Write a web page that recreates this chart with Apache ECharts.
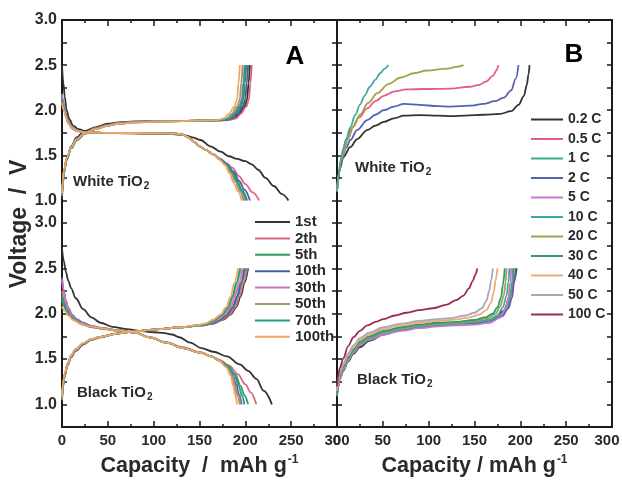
<!DOCTYPE html>
<html>
<head>
<meta charset="utf-8">
<script src="https://cdn.jsdelivr.net/npm/echarts@6/dist/echarts.min.js"></script>
<style>
  html, body { margin: 0; padding: 0; background: #fff; }
  #chart { width: 622px; height: 481px; }
</style>
</head>
<body>
<div id="chart"></div>
<script>
// ---- labels ----
const capacityTicks = [0, 50, 100, 150, 200, 250, 300];
const voltageTicks = [1.0, 1.5, 2.0, 2.5, 3.0];
const cycles = ['1st', '2th', '5th', '10th', '30th', '50th', '70th', '100th'];
const cycleColors = ['#333333', '#e0637f', '#2f9c63', '#4f5d9e', '#c577c4', '#9d9c63', '#1f9f80', '#f2a565'];
const rates = ['0.2 C', '0.5 C', '1 C', '2 C', '5 C', '10 C', '20 C', '30 C', '40 C', '50 C', '100 C'];
const rateColors = ['#333333', '#e65b8c', '#3aae7c', '#5462ae', '#c67ac8', '#3fa9a6', '#a3a348', '#2a9a72', '#f0a878', '#a8a8b8', '#9a2e52'];

// ---- A: cycling, white TiO2 (capacity mAh/g, voltage V) ----
const whiteCharge = [
  [[0,1.02],[1,1.18],[2,1.3],[5,1.46],[10,1.6],[16,1.7],[25,1.77],[36,1.81],[50,1.85],[62,1.865],[80,1.875],[110,1.88],[150,1.885],[180,1.89],[188,1.91],[193,1.96],[199,2.04],[202,2.12],[203.5,2.3],[205,2.5]],
  [[0,1.05],[1,1.2],[2,1.31],[5,1.45],[10,1.58],[16,1.68],[25,1.75],[36,1.8],[50,1.84],[62,1.86],[80,1.87],[110,1.88],[150,1.885],[182,1.89],[190,1.91],[195,1.96],[201,2.04],[204,2.12],[205.5,2.3],[207,2.5]],
  [[0,1.06],[1,1.21],[2,1.31],[5,1.45],[10,1.58],[16,1.67],[25,1.74],[36,1.79],[50,1.835],[62,1.855],[80,1.87],[110,1.88],[150,1.885],[176,1.89],[184,1.91],[189,1.96],[195,2.04],[198,2.12],[199.5,2.3],[201,2.5]],
  [[0,1.06],[1,1.21],[2,1.31],[5,1.45],[10,1.58],[16,1.67],[25,1.74],[36,1.79],[50,1.835],[62,1.855],[80,1.87],[110,1.88],[150,1.885],[178,1.89],[186,1.91],[191,1.96],[197,2.04],[200,2.12],[201.5,2.3],[203,2.5]],
  [[0,1.07],[1,1.22],[2,1.32],[5,1.46],[10,1.58],[16,1.67],[25,1.74],[36,1.79],[50,1.83],[62,1.855],[80,1.87],[110,1.88],[150,1.885],[174,1.89],[182,1.91],[187,1.96],[193,2.04],[196,2.12],[197.5,2.3],[199,2.5]],
  [[0,1.07],[1,1.22],[2,1.32],[5,1.46],[10,1.58],[16,1.67],[25,1.74],[36,1.79],[50,1.83],[62,1.85],[80,1.865],[110,1.875],[150,1.885],[172,1.89],[180,1.91],[185,1.96],[191,2.04],[194,2.12],[195.5,2.3],[197,2.5]],
  [[0,1.08],[1,1.22],[2,1.32],[5,1.46],[10,1.58],[16,1.67],[25,1.74],[36,1.79],[50,1.83],[62,1.85],[80,1.865],[110,1.875],[150,1.885],[175,1.89],[183,1.91],[188,1.96],[194,2.04],[197,2.12],[198.5,2.3],[200,2.5]],
  [[0,1.08],[1,1.23],[2,1.33],[5,1.47],[10,1.59],[16,1.68],[25,1.745],[36,1.79],[50,1.83],[62,1.85],[80,1.865],[110,1.875],[150,1.885],[169,1.89],[177,1.91],[182,1.96],[188,2.04],[191,2.12],[192.5,2.3],[194,2.5]]
];
const whiteDischarge = [
  [[0,2.5],[1.5,2.3],[3,2.15],[5,2.0],[8,1.9],[12,1.83],[18,1.79],[26,1.765],[40,1.75],[80,1.745],[120,1.735],[133,1.725],[142,1.7],[151,1.67],[162,1.6],[173,1.54],[182,1.49],[191,1.46],[200,1.435],[207,1.4],[214,1.34],[222,1.25],[231,1.16],[240,1.07],[247,1.0]],
  [[0,2.14],[2,2.05],[4,1.95],[7,1.86],[11,1.8],[16,1.77],[25,1.755],[50,1.75],[100,1.745],[125,1.74],[132,1.73],[138,1.7],[144,1.65],[150,1.6],[157,1.56],[165,1.51],[173,1.46],[180,1.41],[186,1.36],[193,1.27],[200,1.18],[208,1.09],[215,1.0]],
  [[0,2.12],[2,2.04],[4,1.95],[7,1.86],[11,1.8],[16,1.77],[25,1.755],[50,1.75],[100,1.745],[125,1.74],[132,1.73],[138,1.7],[144,1.65],[150,1.6],[157,1.56],[165,1.51],[173,1.45],[180,1.39],[186,1.31],[191,1.22],[196,1.12],[202,1.0]],
  [[0,2.16],[2,2.06],[4,1.96],[7,1.87],[11,1.8],[16,1.77],[25,1.755],[50,1.75],[100,1.745],[125,1.74],[132,1.73],[138,1.7],[144,1.65],[150,1.6],[157,1.56],[165,1.51],[173,1.455],[180,1.4],[187,1.32],[193,1.22],[199,1.12],[205,1.0]],
  [[0,2.18],[2,2.07],[4,1.97],[7,1.87],[11,1.81],[16,1.775],[25,1.755],[50,1.75],[100,1.745],[125,1.74],[132,1.73],[138,1.7],[144,1.65],[150,1.6],[157,1.56],[165,1.51],[173,1.45],[180,1.39],[185,1.31],[190,1.21],[195,1.11],[199,1.0]],
  [[0,2.1],[2,2.02],[4,1.94],[7,1.86],[11,1.8],[16,1.77],[25,1.755],[50,1.75],[100,1.745],[125,1.74],[132,1.73],[138,1.7],[144,1.65],[150,1.6],[157,1.56],[165,1.51],[173,1.45],[179,1.39],[184,1.31],[189,1.21],[194,1.1],[198,1.0]],
  [[0,2.12],[2,2.03],[4,1.95],[7,1.86],[11,1.8],[16,1.77],[25,1.755],[50,1.75],[100,1.745],[125,1.74],[132,1.73],[138,1.7],[144,1.65],[150,1.6],[157,1.56],[165,1.51],[173,1.45],[180,1.39],[186,1.31],[191,1.21],[196,1.11],[201,1.0]],
  [[0,2.08],[2,2.0],[4,1.93],[7,1.85],[11,1.8],[16,1.77],[25,1.755],[50,1.75],[100,1.745],[125,1.74],[132,1.73],[138,1.7],[144,1.65],[150,1.6],[157,1.56],[165,1.51],[172,1.45],[178,1.39],[183,1.3],[187,1.2],[192,1.1],[196,1.0]]
];

// ---- A: cycling, black TiO2 ----
const blackCharge = [
  [[0,1.04],[1,1.19],[3,1.31],[6,1.43],[10,1.52],[15,1.59],[23,1.66],[32,1.71],[42,1.74],[60,1.78],[80,1.805],[100,1.825],[130,1.85],[152,1.87],[165,1.89],[176,1.935],[184,1.99],[190,2.07],[195,2.19],[199,2.34],[203,2.5]],
  [[0,1.05],[1,1.2],[3,1.32],[6,1.44],[10,1.53],[15,1.6],[23,1.67],[32,1.715],[42,1.745],[60,1.78],[80,1.805],[100,1.825],[130,1.85],[152,1.87],[164,1.89],[175,1.935],[183,1.99],[189,2.07],[194,2.19],[198,2.34],[202,2.5]],
  [[0,1.05],[1,1.2],[3,1.32],[6,1.44],[10,1.53],[15,1.6],[23,1.67],[32,1.715],[42,1.745],[60,1.78],[80,1.805],[100,1.825],[130,1.85],[151,1.87],[163,1.89],[173,1.935],[181,1.99],[187,2.07],[192,2.19],[196,2.34],[200,2.5]],
  [[0,1.06],[1,1.21],[3,1.33],[6,1.44],[10,1.53],[15,1.6],[23,1.67],[32,1.715],[42,1.745],[60,1.78],[80,1.805],[100,1.825],[130,1.85],[150,1.87],[162,1.89],[172,1.935],[180,1.99],[186,2.07],[191,2.19],[195,2.34],[199,2.5]],
  [[0,1.06],[1,1.21],[3,1.33],[6,1.44],[10,1.53],[15,1.6],[23,1.67],[32,1.715],[42,1.745],[60,1.78],[80,1.805],[100,1.825],[130,1.85],[149,1.87],[160,1.89],[170,1.935],[178,1.99],[184,2.07],[189,2.19],[193,2.34],[197,2.5]],
  [[0,1.07],[1,1.22],[3,1.33],[6,1.45],[10,1.54],[15,1.61],[23,1.67],[32,1.715],[42,1.745],[60,1.78],[80,1.805],[100,1.825],[130,1.85],[148,1.87],[159,1.89],[168,1.935],[176,1.99],[182,2.07],[187,2.19],[191,2.34],[195,2.5]],
  [[0,1.07],[1,1.22],[3,1.33],[6,1.45],[10,1.54],[15,1.61],[23,1.67],[32,1.715],[42,1.745],[60,1.78],[80,1.805],[100,1.825],[130,1.85],[147,1.87],[158,1.89],[167,1.935],[175,1.99],[181,2.07],[186,2.19],[190,2.34],[194,2.5]],
  [[0,1.08],[1,1.23],[3,1.34],[6,1.45],[10,1.54],[15,1.61],[23,1.675],[32,1.72],[42,1.745],[60,1.78],[80,1.805],[100,1.825],[130,1.85],[146,1.87],[156,1.89],[165,1.935],[173,1.99],[179,2.07],[184,2.19],[188,2.34],[192,2.5]]
];
const blackDischarge = [
  [[0,2.72],[2,2.58],[4,2.47],[7,2.36],[10,2.28],[15,2.17],[23,2.05],[32,1.96],[42,1.9],[55,1.855],[70,1.83],[85,1.81],[100,1.795],[112,1.785],[120,1.77],[128,1.74],[140,1.68],[152,1.62],[165,1.58],[180,1.53],[194,1.44],[203,1.37],[212,1.28],[220,1.15],[229,1.0]],
  [[0,2.25],[2,2.15],[5,2.06],[9,1.99],[14,1.93],[22,1.88],[32,1.85],[45,1.83],[60,1.815],[80,1.79],[95,1.745],[114,1.685],[132,1.63],[151,1.575],[163,1.53],[172,1.49],[182,1.43],[192,1.33],[200,1.22],[206,1.13],[212,1.0]],
  [[0,2.2],[2,2.12],[5,2.04],[9,1.98],[14,1.93],[22,1.885],[32,1.855],[45,1.835],[60,1.815],[80,1.79],[95,1.74],[114,1.68],[132,1.62],[151,1.57],[163,1.53],[172,1.48],[181,1.42],[189,1.33],[195,1.2],[199,1.1],[203,1.0]],
  [[0,2.4],[2,2.25],[4,2.15],[7,2.06],[11,1.99],[16,1.94],[23,1.9],[32,1.865],[45,1.84],[60,1.82],[80,1.79],[95,1.74],[114,1.68],[132,1.62],[151,1.57],[163,1.53],[172,1.48],[180,1.42],[186,1.33],[190,1.22],[193,1.11],[196,1.0]],
  [[0,2.38],[2,2.24],[4,2.14],[7,2.05],[11,1.98],[16,1.93],[23,1.89],[32,1.86],[45,1.84],[60,1.82],[80,1.79],[95,1.74],[114,1.68],[132,1.62],[151,1.57],[163,1.53],[172,1.48],[180,1.42],[186,1.32],[189,1.21],[192,1.1],[195,1.0]],
  [[0,2.15],[3,2.07],[6,2.01],[10,1.96],[15,1.92],[22,1.885],[32,1.855],[45,1.835],[60,1.815],[80,1.79],[95,1.74],[114,1.68],[132,1.62],[151,1.57],[163,1.53],[172,1.48],[180,1.41],[185,1.32],[188,1.21],[191,1.1],[194,1.0]],
  [[0,2.18],[2,2.1],[5,2.03],[9,1.97],[14,1.93],[22,1.885],[32,1.855],[45,1.835],[60,1.815],[80,1.79],[95,1.74],[114,1.68],[132,1.62],[151,1.57],[163,1.53],[172,1.48],[181,1.42],[188,1.33],[193,1.2],[196,1.1],[199,1.0]],
  [[0,2.08],[3,2.03],[7,1.98],[12,1.93],[20,1.89],[30,1.86],[45,1.835],[60,1.815],[80,1.79],[95,1.74],[114,1.68],[132,1.62],[151,1.57],[163,1.53],[172,1.48],[179,1.41],[184,1.32],[187,1.2],[189,1.1],[191,1.0]]
];

// ---- B: rate capability, white TiO2 (only some rates shown) ----
const whiteRateNames = ['0.2 C', '2 C', '0.5 C', '20 C', '10 C'];
const whiteRate = [
  [[0,1.1],[1,1.2],[3,1.35],[7,1.48],[14.5,1.59],[22,1.68],[33,1.78],[42,1.83],[51,1.87],[62,1.91],[73,1.94],[90,1.945],[110,1.94],[124,1.935],[140,1.94],[160,1.95],[178,1.96],[190,1.99],[198,2.06],[204,2.16],[207,2.28],[209,2.4],[210,2.5]],
  [[0,1.1],[2,1.3],[5,1.45],[10,1.58],[14.5,1.67],[22,1.78],[33,1.89],[42,1.95],[51,2.0],[62,2.04],[73,2.07],[90,2.06],[110,2.045],[124,2.04],[145,2.05],[160,2.07],[172,2.1],[182,2.14],[190,2.22],[195,2.35],[198,2.5]],
  [[0,1.1],[2,1.3],[5,1.5],[10,1.67],[16,1.8],[24,1.92],[33,2.02],[42,2.1],[51,2.16],[63,2.21],[76,2.23],[95,2.235],[124,2.24],[145,2.26],[155,2.28],[163,2.32],[170,2.38],[174,2.44],[176,2.5]],
  [[0,1.1],[2,1.3],[4,1.42],[7,1.52],[12,1.68],[18,1.82],[25,1.95],[34,2.08],[44,2.19],[56,2.29],[69,2.36],[84,2.41],[98,2.44],[120,2.46],[130,2.48],[138,2.5]],
  [[0,1.1],[1.5,1.25],[3.6,1.42],[7,1.58],[10,1.68],[14.5,1.81],[20,1.95],[25,2.06],[30,2.16],[36,2.26],[42,2.34],[47,2.41],[52,2.46],[56,2.5]]
];

// ---- B: rate capability, black TiO2 (same order as rates) ----
const blackRate = [
  [[0,1.08],[1,1.18],[3,1.28],[7,1.37],[12,1.47],[18,1.56],[25,1.63],[35,1.7],[51,1.77],[70,1.82],[87,1.85],[110,1.87],[124,1.88],[140,1.89],[156,1.9],[171,1.94],[182,2.03],[189,2.2],[193,2.36],[196,2.5]],
  [[0,1.1],[1,1.2],[3,1.3],[7,1.4],[12,1.5],[18,1.59],[25,1.66],[35,1.72],[51,1.78],[70,1.82],[90,1.85],[110,1.87],[130,1.88],[150,1.895],[168,1.925],[179,1.98],[186,2.07],[190,2.2],[192,2.35],[193,2.5]],
  [[0,1.1],[1,1.2],[3,1.3],[7,1.4],[12,1.5],[18,1.59],[25,1.67],[35,1.73],[51,1.79],[70,1.83],[90,1.86],[110,1.875],[130,1.885],[150,1.9],[167,1.93],[178,1.98],[185,2.07],[189,2.2],[191,2.35],[192,2.5]],
  [[0,1.1],[1,1.19],[3,1.29],[7,1.39],[12,1.49],[18,1.58],[25,1.66],[35,1.72],[51,1.78],[70,1.82],[90,1.85],[110,1.87],[130,1.88],[150,1.89],[168,1.92],[180,1.97],[187,2.06],[191,2.18],[193,2.33],[195,2.5]],
  [[0,1.1],[1,1.19],[3,1.28],[7,1.38],[12,1.48],[18,1.57],[25,1.65],[35,1.71],[51,1.77],[70,1.81],[90,1.84],[110,1.86],[130,1.87],[150,1.88],[167,1.9],[177,1.95],[184,2.05],[187,2.18],[189,2.34],[190,2.5]],
  [[0,1.1],[1,1.2],[3,1.3],[7,1.4],[12,1.5],[18,1.59],[25,1.67],[35,1.73],[51,1.79],[70,1.83],[90,1.86],[110,1.88],[130,1.89],[150,1.91],[166,1.93],[175,1.98],[181,2.07],[185,2.2],[187,2.35],[188,2.5]],
  [[0,1.12],[1,1.21],[3,1.31],[7,1.41],[12,1.51],[18,1.6],[25,1.68],[35,1.74],[51,1.8],[70,1.84],[90,1.87],[110,1.89],[130,1.9],[150,1.92],[165,1.95],[173,2.0],[178,2.08],[182,2.2],[184,2.35],[185,2.5]],
  [[0,1.12],[1,1.22],[3,1.32],[7,1.42],[12,1.52],[18,1.61],[25,1.69],[35,1.75],[51,1.81],[70,1.85],[90,1.88],[110,1.9],[130,1.91],[150,1.93],[162,1.96],[170,2.0],[175,2.07],[179,2.18],[181,2.32],[183,2.5]],
  [[0,1.15],[1,1.24],[3,1.34],[7,1.44],[12,1.54],[18,1.63],[25,1.71],[35,1.77],[51,1.83],[70,1.87],[90,1.9],[110,1.92],[130,1.935],[145,1.96],[155,1.99],[163,2.04],[168,2.12],[171,2.24],[173,2.37],[175,2.5]],
  [[0,1.15],[1,1.25],[3,1.35],[7,1.45],[12,1.56],[18,1.65],[25,1.73],[35,1.79],[51,1.85],[70,1.89],[90,1.92],[110,1.94],[124,1.95],[140,1.98],[150,2.01],[158,2.06],[163,2.14],[166,2.25],[168,2.36],[170,2.5]],
  [[0,1.2],[1,1.3],[3,1.4],[7,1.51],[12,1.64],[18,1.74],[25,1.81],[33,1.87],[42,1.91],[51,1.94],[63,1.98],[76,2.01],[90,2.04],[105,2.06],[120,2.1],[130,2.15],[138,2.2],[144,2.28],[148,2.36],[151,2.43],[153,2.5]]
];

const FONT = '"Liberation Sans", Arial, Helvetica, sans-serif';
const INK = '#1a1a1a';
const TXT = '#2a2a2a';

const chart = echarts.init(document.getElementById('chart'), null, { renderer: 'canvas' });

// grids: 0 = A top, 1 = A bottom, 2 = B top, 3 = B bottom
const grids = [
  { left: 62, top: 20, width: 275, height: 203, containLabel: false, outerBoundsMode: 'none' },
  { left: 62, top: 223, width: 275, height: 204, containLabel: false, outerBoundsMode: 'none' },
  { left: 337, top: 20, width: 275, height: 203, containLabel: false, outerBoundsMode: 'none' },
  { left: 337, top: 223, width: 275, height: 204, containLabel: false, outerBoundsMode: 'none' }
];

const tickFont = { fontFamily: FONT, fontWeight: 'bold', fontSize: 15, color: TXT };

function xAxisFor(gi, position, showLabels, title, nudgeLast) {
  const ax = {
    type: 'value', gridIndex: gi, position: position, min: 0, max: 300, interval: 50,
    axisLine: { show: true, onZero: false, lineStyle: { color: INK, width: 2 } },
    axisTick: { show: true, inside: true, length: 6, lineStyle: { color: INK, width: 1.5 } },
    minorTick: { show: true, splitNumber: 2, length: 3, lineStyle: { color: INK, width: 1.5 } },
    splitLine: { show: false },
    axisLabel: Object.assign({
      show: showLabels, margin: 6,
      customValues: capacityTicks,
      // the right-most label of the page edge is kept inside the frame
      formatter: v => (nudgeLast && v === capacityTicks[capacityTicks.length - 1]) ? '{r|' + v + '}' : String(v),
      rich: { r: Object.assign({ padding: [0, 10, 0, 0] }, tickFont) }
    }, tickFont)
  };
  if (title) {
    ax.name = title;
    ax.nameLocation = 'middle';
    ax.nameGap = 27;
    ax.nameTextStyle = {
      rich: {
        t: { fontFamily: FONT, fontWeight: 'bold', fontSize: 21.5, color: TXT },
        u: { fontFamily: FONT, fontWeight: 'bold', fontSize: 12, color: TXT, verticalAlign: 'top', padding: [0, 0, 12, 1] }
      }
    };
  }
  return ax;
}

function yAxisFor(gi, position, showLabels) {
  return {
    type: 'value', gridIndex: gi, position: position, min: 0.75, max: 3.0, interval: 0.25,
    axisLine: { show: true, onZero: false, lineStyle: { color: INK, width: 2 } },
    axisTick: { show: true, inside: true, length: 5, lineStyle: { color: INK, width: 1.5 } },
    splitLine: { show: false },
    axisLabel: {
      show: showLabels, margin: 5, color: TXT, fontFamily: FONT, fontWeight: 'bold', fontSize: 16,
      formatter: function (v) {
        const r = Math.round(v * 100);
        return voltageTicks.some(t => Math.round(t * 100) === r) ? v.toFixed(1) : '';
      }
    }
  };
}

const xAxes = [
  xAxisFor(0, 'top', false),
  xAxisFor(1, 'bottom', true, '{t|Capacity  /  mAh g}{u|-1}', false),
  xAxisFor(2, 'top', false),
  xAxisFor(3, 'bottom', true, '{t|Capacity / mAh g}{u|-1}', true)
];
const yAxes = [
  yAxisFor(0, 'left', true), yAxisFor(0, 'right', false),
  yAxisFor(1, 'left', true), yAxisFor(1, 'right', false),
  yAxisFor(2, 'left', false), yAxisFor(2, 'right', false),
  yAxisFor(3, 'left', false), yAxisFor(3, 'right', false)
];

function curve(name, data, color, xi, yi) {
  return {
    type: 'line', name: name, data: data, xAxisIndex: xi, yAxisIndex: yi,
    smooth: 0.35, smoothMonotone: 'x', showSymbol: false, symbol: 'none',
    lineStyle: { color: color, width: 1.8 }, itemStyle: { color: color },
    silent: true, animation: false
  };
}

const series = [];
cycles.forEach((c, i) => {
  series.push(curve(c, whiteCharge[i], cycleColors[i], 0, 0));
  series.push(curve(c, whiteDischarge[i], cycleColors[i], 0, 0));
});
cycles.forEach((c, i) => {
  series.push(curve(c, blackCharge[i], cycleColors[i], 1, 2));
  series.push(curve(c, blackDischarge[i], cycleColors[i], 1, 2));
});
rates.forEach((r, i) => {
  series.push(curve(r, blackRate[i], rateColors[i], 3, 6));
});
whiteRateNames.forEach((r, i) => {
  series.push(curve(r, whiteRate[i], rateColors[rates.indexOf(r)], 2, 4));
});

function subText(main, x, y) {
  return {
    type: 'text', x: x, y: y, silent: true,
    style: {
      text: '{m|' + main + '}{s|2}',
      verticalAlign: 'middle',
      rich: {
        m: { fontFamily: FONT, fontWeight: 'bold', fontSize: 15, fill: TXT, lineHeight: 18 },
        s: { fontFamily: FONT, fontWeight: 'bold', fontSize: 10, fill: TXT, lineHeight: 18, verticalAlign: 'bottom', padding: [9, 0, 0, 1] }
      }
    }
  };
}

chart.setOption({
  backgroundColor: '#fff',
  animation: false,
  grid: grids,
  xAxis: xAxes,
  yAxis: yAxes,
  legend: [
    {
      data: cycles, orient: 'vertical', left: 250, top: 209, selectedMode: false,
      icon: 'rect', itemWidth: 35, itemHeight: 2, itemGap: 0.4,
      textStyle: { fontFamily: FONT, fontWeight: 'bold', fontSize: 15, color: TXT, lineHeight: 16 }
    },
    {
      data: rates, orient: 'vertical', left: 526, top: 106, selectedMode: false,
      icon: 'rect', itemWidth: 32, itemHeight: 2, itemGap: 2.5,
      textStyle: { fontFamily: FONT, fontWeight: 'bold', fontSize: 14, color: TXT, lineHeight: 17 }
    }
  ],
  graphic: [
    { type: 'text', x: 295, y: 57, silent: true,
      style: { text: 'A', fontFamily: FONT, fontWeight: 'bold', fontSize: 26, fill: '#000', align: 'center', verticalAlign: 'middle' } },
    { type: 'text', x: 574, y: 55, silent: true,
      style: { text: 'B', fontFamily: FONT, fontWeight: 'bold', fontSize: 26, fill: '#000', align: 'center', verticalAlign: 'middle' } },
    { type: 'text', x: 20, y: 224, rotation: Math.PI / 2, silent: true,
      style: { text: 'Voltage  /  V', fontFamily: FONT, fontWeight: 'bold', fontSize: 23, fill: TXT, align: 'center', verticalAlign: 'middle' } },
    subText('White TiO', 73, 182),
    subText('White TiO', 355, 168),
    subText('Black TiO', 77, 393),
    subText('Black TiO', 357, 380)
  ],
  series: series
});
</script>
</body>
</html>
